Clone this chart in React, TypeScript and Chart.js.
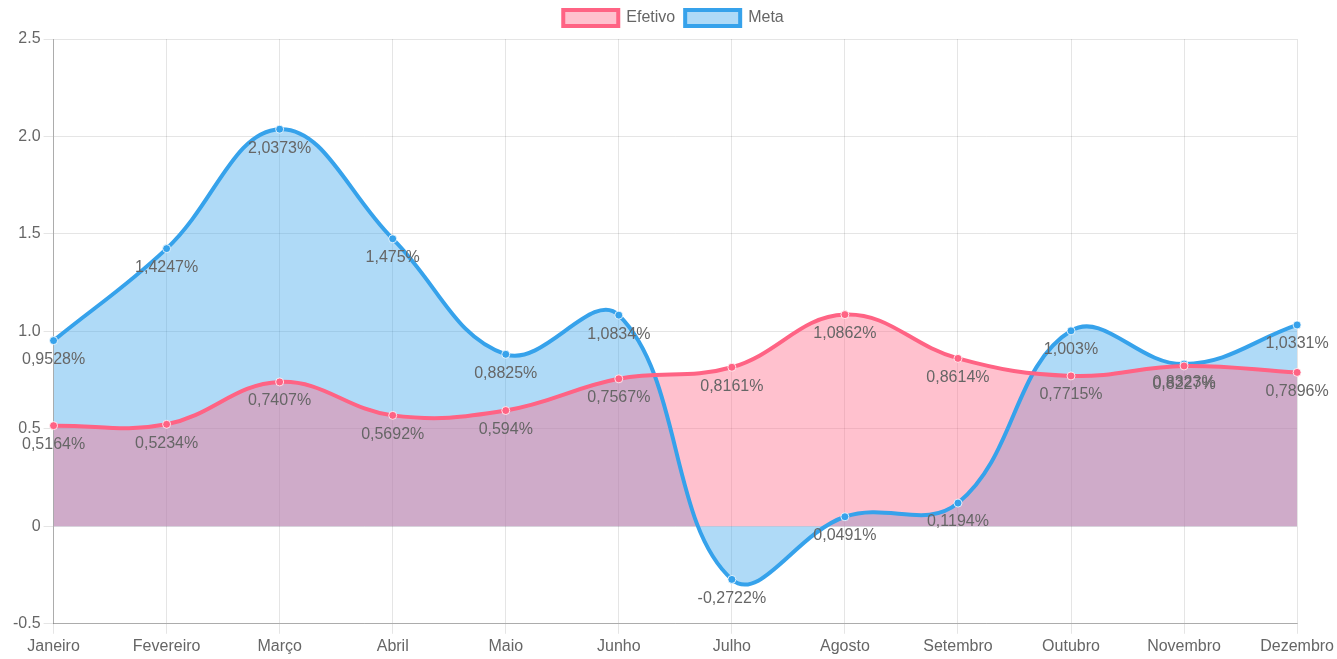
import React, { useEffect, useRef } from "react";
import { Chart, registerables } from "chart.js";

Chart.register(...registerables);

const months = ["Janeiro", "Fevereiro", "Março", "Abril", "Maio", "Junho", "Julho", "Agosto", "Setembro", "Outubro", "Novembro", "Dezembro"];
const efetivo = [0.5164, 0.5234, 0.7407, 0.5692, 0.594, 0.7567, 0.8161, 1.0862, 0.8614, 0.7715, 0.8227, 0.7896];
const meta = [0.9528, 1.4247, 2.0373, 1.475, 0.8825, 1.0834, -0.2722, 0.0491, 0.1194, 1.003, 0.8323, 1.0331];

const labelPlugin = {
  id: "pointLabels",
  afterDatasetsDraw(chart: any) {
    const ctx = chart.ctx;
    ctx.save();
    ctx.font = '16px "Liberation Sans", Arial, sans-serif';
    ctx.fillStyle = "#666";
    ctx.textAlign = "center";
    ctx.textBaseline = "middle";
    chart.data.datasets.forEach((ds: any, i: number) => {
      const meta = chart.getDatasetMeta(i);
      meta.data.forEach((pt: any, j: number) => {
        const v = ds.data[j];
        const txt = String(v).replace(".", ",") + "%";
        ctx.fillText(txt, pt.x, pt.y + 19);
      });
    });
    ctx.restore();
  },
};

const legendMargin = {
  id: "legendMargin",
  beforeInit(chart: any) {
    const lg = chart.legend;
    if (!lg) return;
    const orig = lg.fit;
    lg.fit = function () {
      orig.call(this);
      this.height += 3;
    };
  },
};

export default function App() {
  const ref = useRef<HTMLCanvasElement>(null);
  useEffect(() => {
    document.body.style.margin = "0";
    const chart = new Chart(ref.current!, {
      type: "line",
      data: {
        labels: months,
        datasets: [
          {
            label: "Efetivo",
            data: efetivo,
            borderColor: "rgb(255,99,132)",
            backgroundColor: "rgba(255,99,132,0.4)",
            pointBackgroundColor: "rgb(255,99,132)",
            pointBorderColor: "rgba(255,255,255,0.8)",
            pointBorderWidth: 1,
            pointRadius: 4,
            borderWidth: 4,
            tension: 0.4,
            fill: "origin",
          },
          {
            label: "Meta",
            data: meta,
            borderColor: "rgb(54,162,235)",
            backgroundColor: "rgba(54,162,235,0.4)",
            pointBackgroundColor: "rgb(54,162,235)",
            pointBorderColor: "rgba(255,255,255,0.8)",
            pointBorderWidth: 1,
            pointRadius: 4,
            borderWidth: 4,
            tension: 0.4,
            fill: "origin",
          },
        ],
      },
      options: {
        responsive: false,
        animation: false,
        layout: { padding: { top: 0, left: 10, right: 0, bottom: 0 } },
        plugins: {
          filler: { drawTime: "beforeDatasetsDraw" },
          tooltip: { enabled: false },
          legend: {
            position: "top",
            labels: {
              boxWidth: 55,
              boxHeight: 16,
              color: "#666",
              font: { size: 16, family: '"Liberation Sans", Arial, sans-serif' },
              padding: 10,
            },
          },
        },
        scales: {
          x: {
            offset: false,
            grid: { color: "rgba(0,0,0,0.1)", tickLength: 10 },
            border: { color: "rgba(0,0,0,0.25)" },
            ticks: { color: "#666", font: { size: 16, family: '"Liberation Sans", Arial, sans-serif' }, maxRotation: 0, padding: 3 },
          },
          y: {
            min: -0.5,
            max: 2.5,
            grid: { color: "rgba(0,0,0,0.1)", tickLength: 10 },
            border: { color: "rgba(0,0,0,0.25)" },
            ticks: {
              stepSize: 0.5,
              color: "#666",
              padding: 3,
              font: { size: 16, family: '"Liberation Sans", Arial, sans-serif' },
              callback: (v: any) => (Number(v) === 0 ? "0" : Number(v).toFixed(1)),
            },
          },
        },
      },
      plugins: [labelPlugin, legendMargin],
    });
    return () => chart.destroy();
  }, []);
  return (
    <div style={{ position: "absolute", left: 0, top: 0, width: 1337, height: 659 }}>
      <canvas ref={ref} width={1337} height={659} />
    </div>
  );
}
